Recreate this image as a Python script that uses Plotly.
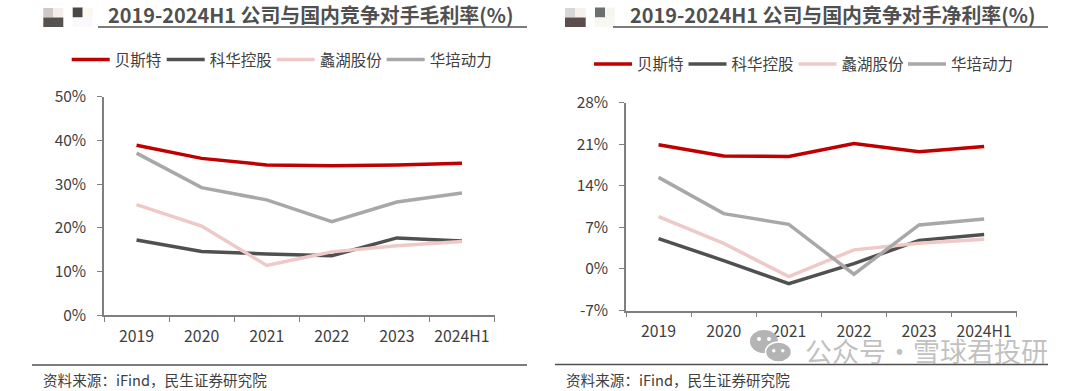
import plotly.graph_objects as go

W, H = 1080, 391
years = ["2019", "2020", "2021", "2022", "2023", "2024H1"]
names = ["贝斯特", "科华控股", "蠡湖股份", "华培动力"]
colors = ["#C00000", "#505050", "#EFC8C8", "#A8A8A8"]

gross_bst = [38.9, 35.9, 34.4, 34.2, 34.4, 34.8]
gross_khkg = [17.2, 14.6, 14.0, 13.6, 17.7, 17.0]
gross_lhgf = [25.3, 20.4, 11.4, 14.5, 15.9, 16.9]
gross_hpdl = [37.1, 29.2, 26.4, 21.4, 25.9, 28.0]

net_bst = [20.9, 19.0, 18.9, 21.1, 19.7, 20.6]
net_khkg = [5.1, 1.4, -2.5, 0.9, 4.8, 5.8]
net_lhgf = [8.8, 4.3, -1.3, 3.2, 4.3, 5.0]
net_hpdl = [15.4, 9.3, 7.5, -0.9, 7.4, 8.4]

gross_ticks = [0, 10, 20, 30, 40, 50]
net_ticks = [-7, 0, 7, 14, 21, 28]

title_left = "2019-2024H1 公司与国内竞争对手毛利率(%)"
title_right = "2019-2024H1 公司与国内竞争对手净利率(%)"
source_text = "资料来源：iFind，民生证券研究院"
watermark = "公众号·雪球君投研"

FONT = "Noto Sans CJK SC"
TXT = "#404040"
AXC = "#7F7F7F"

# left edge of each legend key line, per panel
legend_x_left = [71.7, 166.7, 276.7, 386.7]
legend_x_right = [594, 688.5, 798.5, 908]

fig = go.Figure()
gross = [gross_bst, gross_khkg, gross_lhgf, gross_hpdl]
net = [net_bst, net_khkg, net_lhgf, net_hpdl]
legend_layout = {}

def legend(x, y):
    return dict(orientation="h", x=(x - 5) / W, y=1 - y / H, xanchor="left", yanchor="middle",
                bgcolor="rgba(0,0,0,0)", itemwidth=38,
                font=dict(family=FONT, size=15.5, color=TXT), itemclick=False, itemdoubleclick=False)

k = 1
for vals, xs, ax, ay, ly in [(gross, legend_x_left, "x", "y", 60), (net, legend_x_right, "x2", "y2", 64.5)]:
    for n, c, v, lx in zip(names, colors, vals, xs):
        key = "legend" if k == 1 else f"legend{k}"
        fig.add_trace(go.Scatter(x=years, y=v, name=n, mode="lines", xaxis=ax, yaxis=ay,
                                 line=dict(color=c, width=3.5), legend=key, hoverinfo="skip"))
        legend_layout[key] = legend(lx, ly)
        k += 1

def xa(x0, x1, anchor, standoff):
    return dict(domain=[x0 / W, x1 / W], anchor=anchor, type="category", categoryorder="array",
                categoryarray=years, range=[-0.5, 5.5], tickson="boundaries", ticks="outside",
                ticklen=5, tickcolor=AXC, tickwidth=1, showgrid=False, zeroline=False,
                showline=True, linecolor=AXC, linewidth=1.5, ticklabelstandoff=standoff,
                tickfont=dict(family=FONT, size=15.8, color=TXT))

def ya(y_top, y_bot, anchor, ticks, rng):
    return dict(domain=[1 - y_bot / H, 1 - y_top / H], anchor=anchor, range=rng, tickmode="array",
                tickvals=ticks, ticktext=[f"{t}%" for t in ticks], ticks="outside", ticklen=5,
                tickcolor=AXC, tickwidth=1, showgrid=False, zeroline=False, showline=True,
                linecolor=AXC, linewidth=1.5, ticklabelstandoff=8,
                tickfont=dict(family=FONT, size=15.5, color=TXT))

def px_rect(x0, y0, x1, y1, color):
    return dict(type="rect", xref="paper", yref="paper", x0=x0 / W, x1=x1 / W, y0=1 - y0 / H, y1=1 - y1 / H,
                fillcolor=color, line=dict(width=0), layer="below")

def px_circle(x0, y0, x1, y1, color, outline=None):
    return dict(type="circle", xref="paper", yref="paper", x0=x0 / W, x1=x1 / W, y0=1 - y0 / H, y1=1 - y1 / H,
                fillcolor=color, line=dict(width=1.5 if outline else 0, color=outline or color))

shapes = []
annotations = []
for x0, x1, y, tx, txt in [(98, 527, 27, 105.5, title_left), (613, 1048, 27, 627.5, title_right)]:
    shapes.append(dict(type="line", xref="paper", yref="paper", x0=x0 / W, x1=x1 / W,
                       y0=1 - y / H, y1=1 - y / H, line=dict(color="#505050", width=1.5)))
    annotations.append(dict(text=f"<b>{txt}</b>", xref="paper", yref="paper", x=tx / W, y=1 - 15 / H,
                            xanchor="left", yanchor="middle", showarrow=False,
                            font=dict(family=FONT, size=19.9, color="#505050")))
for x0, x1, y, tx in [(32, 527, 365, 41), (555, 1048, 364.5, 564)]:
    shapes.append(dict(type="line", xref="paper", yref="paper", x0=x0 / W, x1=x1 / W,
                       y0=1 - y / H, y1=1 - y / H, line=dict(color="#505050", width=1.5)))
    annotations.append(dict(text=source_text, xref="paper", yref="paper", x=tx / W, y=1 - 379 / H,
                            xanchor="left", yanchor="middle", showarrow=False,
                            font=dict(family=FONT, size=14.6, color=TXT)))

# blurred logo blocks above each panel
shapes += [
    px_rect(43.3, 8, 53.3, 17.5, "#CFC8C4"), px_rect(53.3, 8, 63.3, 17.5, "#F3EFEC"),
    px_rect(43.3, 17.5, 63.3, 27, "#555250"),
    px_rect(72.7, 7.5, 82.7, 17.5, "#4B4745"), px_rect(82.7, 7.5, 92.7, 17.5, "#FBF8EE"),
    px_rect(72.7, 17.5, 92.7, 27, "#FAF8FC"),
    px_rect(565, 8, 575, 17.5, "#D8D6D6"), px_rect(575, 8, 585.7, 17.5, "#F8F0EC"),
    px_rect(565, 17.5, 585.7, 27, "#5A4F4E"),
    px_rect(595, 7.5, 605, 17.5, "#6A7070"), px_rect(605, 7.5, 615, 17.5, "#F6F6F0"),
    px_rect(595, 17.5, 615, 27, "#F8F8F2"),
]

# watermark: chat-bubble icon and account name, as overlaid in the source image
shapes += [
    px_circle(750, 330, 778, 353, "#B4B4B4"),
    px_circle(765.5, 342, 791.5, 362, "#B4B4B4", "white"),
    px_circle(757, 337, 761, 341, "white"), px_circle(767, 337, 771, 341, "white"),
    px_circle(772, 349, 775.5, 352.5, "white"), px_circle(781, 349, 784.5, 352.5, "white"),
]
annotations.append(dict(text=watermark, xref="paper", yref="paper", x=803 / W, y=1 - 350 / H,
                        xanchor="left", yanchor="middle", showarrow=False,
                        font=dict(family=FONT, size=27, color="rgba(140,140,140,0.55)")))

fig.update_layout(
    width=W, height=H, margin=dict(l=0, r=0, t=0, b=0, autoexpand=False), autosize=False,
    paper_bgcolor="white", plot_bgcolor="rgba(0,0,0,0)",
    xaxis=xa(104, 494.5, "y", 6), yaxis=ya(96.8, 315.2, "x", gross_ticks, [0, 50]),
    xaxis2=xa(626, 1016.7, "y2", 6), yaxis2=ya(102.5, 310.5, "x2", net_ticks, [-7, 28]),
    shapes=shapes, annotations=annotations, showlegend=True, **legend_layout,
)
fig.write_html("out.html", config=dict(displayModeBar=False), post_script="document.body.style.margin='0';")
